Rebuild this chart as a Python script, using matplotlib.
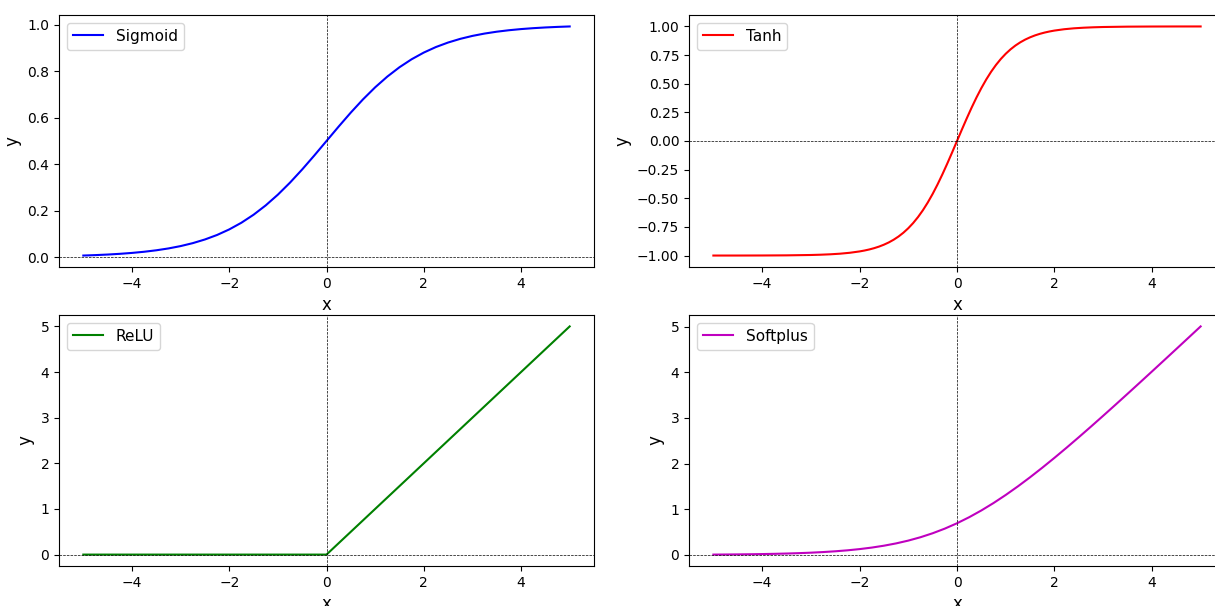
import matplotlib.pyplot as plt

# x grid (step 0.25) and values
x = [-5.0, -4.75, -4.5, -4.25, -4.0, -3.75, -3.5, -3.25, -3.0, -2.75, -2.5,
     -2.25, -2.0, -1.75, -1.5, -1.25, -1.0, -0.75, -0.5, -0.25, 0.0,
     0.25, 0.5, 0.75, 1.0, 1.25, 1.5, 1.75, 2.0, 2.25, 2.5,
     2.75, 3.0, 3.25, 3.5, 3.75, 4.0, 4.25, 4.5, 4.75, 5.0]

sigmoid_y = [0.0067, 0.0086, 0.0110, 0.0141, 0.0180, 0.0230, 0.0293, 0.0373, 0.0474, 0.0601, 0.0759,
             0.0953, 0.1192, 0.1480, 0.1824, 0.2227, 0.2689, 0.3208, 0.3775, 0.4378, 0.5000,
             0.5622, 0.6225, 0.6792, 0.7311, 0.7773, 0.8176, 0.8520, 0.8808, 0.9047, 0.9241,
             0.9399, 0.9526, 0.9627, 0.9707, 0.9770, 0.9820, 0.9859, 0.9890, 0.9914, 0.9933]

# tanh is steep near 0, so it is read on a finer grid there
tanh_x = [-5.0, -4.5, -4.0, -3.5, -3.0, -2.8, -2.6, -2.4, -2.2, -2.0,
          -1.9, -1.8, -1.7, -1.6, -1.5, -1.4, -1.3, -1.2, -1.1, -1.0,
          -0.9, -0.8, -0.7, -0.6, -0.5, -0.4, -0.3, -0.2, -0.1, 0.0,
          0.1, 0.2, 0.3, 0.4, 0.5, 0.6, 0.7, 0.8, 0.9, 1.0,
          1.1, 1.2, 1.3, 1.4, 1.5, 1.6, 1.7, 1.8, 1.9, 2.0,
          2.2, 2.4, 2.6, 2.8, 3.0, 3.5, 4.0, 4.5, 5.0]
tanh_y = [-0.9999, -0.9998, -0.9993, -0.9982, -0.9951, -0.9926, -0.9890, -0.9837, -0.9757, -0.9640,
          -0.9562, -0.9468, -0.9354, -0.9217, -0.9051, -0.8854, -0.8617, -0.8337, -0.8005, -0.7616,
          -0.7163, -0.6640, -0.6044, -0.5370, -0.4621, -0.3799, -0.2913, -0.1974, -0.0997, 0.0,
          0.0997, 0.1974, 0.2913, 0.3799, 0.4621, 0.5370, 0.6044, 0.6640, 0.7163, 0.7616,
          0.8005, 0.8337, 0.8617, 0.8854, 0.9051, 0.9217, 0.9354, 0.9468, 0.9562, 0.9640,
          0.9757, 0.9837, 0.9890, 0.9926, 0.9951, 0.9982, 0.9993, 0.9998, 0.9999]

relu_y = [0.0, 0.0, 0.0, 0.0, 0.0, 0.0, 0.0, 0.0, 0.0, 0.0, 0.0,
          0.0, 0.0, 0.0, 0.0, 0.0, 0.0, 0.0, 0.0, 0.0, 0.0,
          0.25, 0.5, 0.75, 1.0, 1.25, 1.5, 1.75, 2.0, 2.25, 2.5,
          2.75, 3.0, 3.25, 3.5, 3.75, 4.0, 4.25, 4.5, 4.75, 5.0]

softplus_y = [0.0067, 0.0086, 0.0110, 0.0141, 0.0181, 0.0233, 0.0298, 0.0381, 0.0486, 0.0620, 0.0789,
              0.1001, 0.1269, 0.1602, 0.2014, 0.2519, 0.3133, 0.3868, 0.4741, 0.5759, 0.6931,
              0.8259, 0.9741, 1.1368, 1.3133, 1.5019, 1.7014, 1.9102, 2.1269, 2.3501, 2.5789,
              2.8120, 3.0486, 3.2881, 3.5298, 3.7733, 4.0181, 4.2641, 4.5110, 4.7586, 5.0067]

series = [
    ("Sigmoid", x, sigmoid_y, "b"),
    ("Tanh", tanh_x, tanh_y, "r"),
    ("ReLU", x, relu_y, "g"),
    ("Softplus", x, softplus_y, "m"),
]

W, H = 1215, 606
fig = plt.figure(figsize=(W / 100, H / 100), dpi=100)

# axes boxes in pixels: (left, top, right, bottom); right column runs past the edge
boxes = [(59, 15, 594, 267), (689, 15, 1225, 267),
         (59, 315, 594, 566), (689, 315, 1225, 566)]

for (name, xs, y, c), (l, t, r, b) in zip(series, boxes):
    ax = fig.add_axes([l / W, 1 - b / H, (r - l) / W, (b - t) / H])
    ax.plot(xs, y, color=c, label=name)
    ax.axhline(0, color="black", linewidth=0.5, linestyle="--")
    ax.axvline(0, color="black", linewidth=0.5, linestyle="--")
    ax.set_xlabel("x", fontsize=12)
    ax.set_ylabel("y", fontsize=12)
    ax.legend(loc="upper left", fontsize=11)

fig.savefig("out.png", dpi=100)
